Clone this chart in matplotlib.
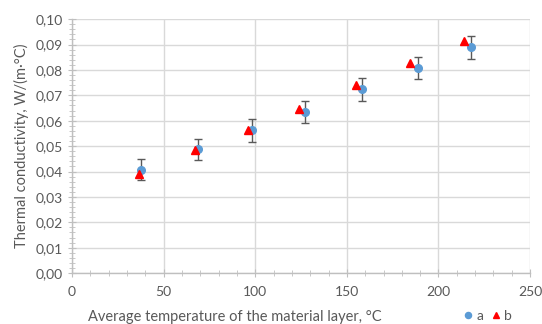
import numpy as np
import matplotlib.pyplot as plt
from matplotlib.ticker import MultipleLocator, FuncFormatter

plt.rcParams['font.family'] = ['Lato', 'DejaVu Sans']

# series a (with error bars)
tA = [37.8, 68.9, 98.1, 127.0, 158.1, 188.9, 218.0]
kA = [0.0407, 0.0487, 0.0562, 0.0634, 0.0723, 0.0807, 0.0889]
errA = [0.0042, 0.0043, 0.0045, 0.0043, 0.0044, 0.0042, 0.0045]

# series b
tB = [36.6, 67.1, 95.9, 123.9, 155.0, 184.7, 213.8]
kB = [0.0392, 0.0483, 0.0565, 0.0646, 0.0741, 0.0828, 0.0914]

grey = '#595959'

fig = plt.figure(figsize=(5.42, 3.24), dpi=100)
ax = fig.add_axes([0.133, 0.157, 0.845, 0.784])

ax.errorbar(tA, kA, yerr=errA, fmt='none', ecolor=grey, elinewidth=1.0,
            capsize=3, capthick=1.0, zorder=3)
ax.plot(tA, kA, 'o', color='#5B9BD5', markersize=5.5, label='a', zorder=4)
ax.plot(tB, kB, '^', color='#FF0000', markersize=6, label='b', zorder=4)

ax.set_xlim(0, 250)
ax.set_ylim(0, 0.10)
ax.xaxis.set_major_locator(MultipleLocator(50))
ax.xaxis.set_minor_locator(MultipleLocator(10))
ax.yaxis.set_major_locator(MultipleLocator(0.01))
ax.yaxis.set_minor_locator(MultipleLocator(0.002))
ax.yaxis.set_major_formatter(FuncFormatter(lambda v, p: f'{v:.2f}'.replace('.', ',')))

ax.grid(True, which='major', color='#D9D9D9', linewidth=1.0, zorder=0)
ax.set_axisbelow(True)
for s in ['top', 'right']:
    ax.spines[s].set_visible(False)
for s in ['left', 'bottom']:
    ax.spines[s].set_color('#BFBFBF')
    ax.spines[s].set_linewidth(1.0)

ax.tick_params(which='both', direction='inout', color='#BFBFBF', labelcolor=grey,
               labelsize=10)
ax.tick_params(which='major', length=6)
ax.tick_params(which='minor', length=4)
ax.tick_params(axis='x', pad=6)

ax.set_xlabel('Average temperature of the material layer, °C', color=grey, fontsize=10.5)
ax.xaxis.set_label_coords(0.356, -0.145)
ax.set_ylabel('Thermal conductivity, W/(m·°C)', color=grey, fontsize=10.5)
ax.yaxis.set_label_coords(-0.095, 0.5)

leg = ax.legend(loc='lower left', bbox_to_anchor=(0.822, -0.24), ncol=2, frameon=False,
                fontsize=10, handletextpad=0.1, columnspacing=0.4, handlelength=1.0,
                markerscale=0.8)
for t in leg.get_texts():
    t.set_color(grey)

fig.savefig('out.png', dpi=100)
